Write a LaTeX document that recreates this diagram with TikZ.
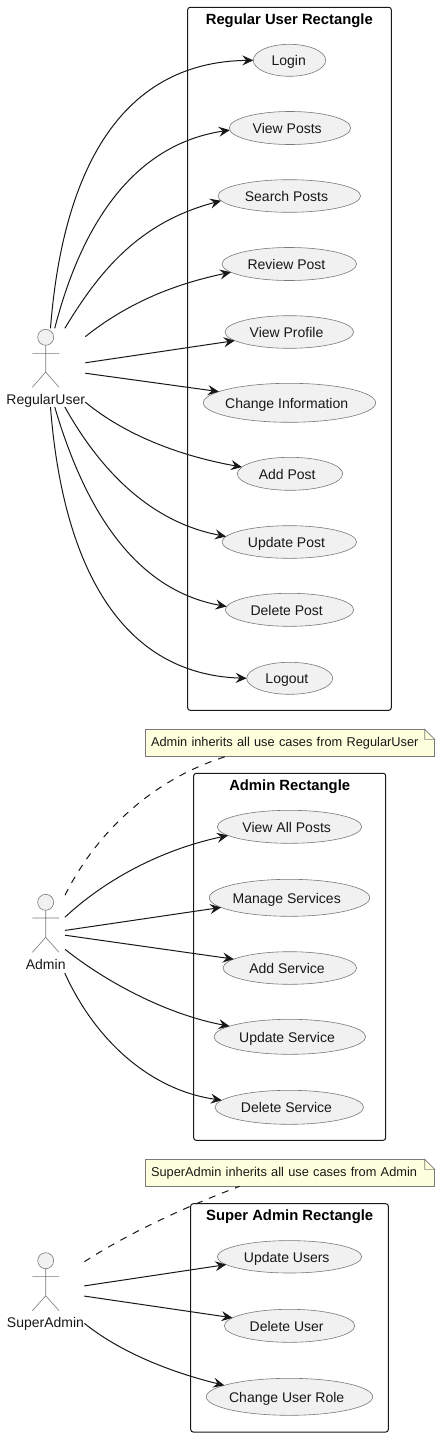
\documentclass[tikz,border=0pt]{standalone}
\usepackage{fontspec}
\setmainfont{Liberation Sans}
\usetikzlibrary{shapes.geometric,arrows.meta,calc}
\definecolor{ink}{HTML}{181818}
\definecolor{soft}{HTML}{7A7A7A}
\definecolor{ucfill}{HTML}{F1F1F1}
\definecolor{notefill}{HTML}{FEFFDD}
\tikzset{
  usecase/.style={ellipse,draw=soft,line width=.6pt,fill=ucfill,inner sep=0pt,outer sep=0pt,text=ink,
    text height=14pt,text depth=3pt,font=\fontsize{14}{16}\selectfont,
    execute at begin node={\hbox to 0pt\bgroup\hss\kern-5.6pt},
    execute at end node={\hss\egroup}},
  frame/.style={rectangle,draw=ink,line width=1pt,rounded corners=2.5pt,inner sep=0pt,outer sep=0pt},
  frametitle/.style={inner sep=0pt,text height=14pt,text depth=3pt,font=\fontsize{14.8}{16}\selectfont\bfseries},
  actorbox/.style={rectangle,inner sep=0pt,outer sep=0pt},
  actorname/.style={inner sep=0pt,text=ink,text height=14pt,text depth=3pt,font=\fontsize{14}{16}\selectfont},
  actorline/.style={draw=soft,line width=.6pt},
  link/.style={draw=ink,line width=1pt,-{Stealth[length=11pt,width=10pt,inset=4pt]}},
  notelink/.style={draw=ink,line width=1pt,dash pattern=on 7pt off 7pt},
  notebox/.style={rectangle,draw=soft,line width=.6pt,fill=notefill,minimum width=289.4pt,minimum height=27pt,
    inner xsep=5.7pt,inner ysep=0pt,outer sep=0pt,text width=278pt,align=left,text=ink,
    font=\fontsize{12.8}{15}\selectfont},
}
\newcommand{\stickman}[5]{% x, head y, arms y, hip y, foot y
  \draw[actorline,fill=ucfill] (#1,#2) circle (8pt);
  \draw[actorline] (#1,#2+8) -- (#1,#4) (#1-13.3,#3) -- (#1+13.3,#3)
    (#1-13.3,#5) -- (#1,#4) -- (#1+13.3,#5);
}
\newcommand{\notefold}[1]{%
  \fill[white] ($(#1.north east)+(-10,0)$) -- ($(#1.north east)+(.6,-.6)$) -- ($(#1.north east)+(0,10)$) -- cycle;
  \draw[soft,line width=.6pt] ($(#1.north east)+(-10,0)$) -- ($(#1.north east)+(0,10)$) -- ($(#1.north east)+(-10,10)$) -- cycle;
}
\begin{document}
\begin{tikzpicture}[x=1pt,y=-1pt]
\useasboundingbox (0,0) rectangle (440,1437);
\fill[white] (0,0) rectangle (440,1437);

% frames
\node[frame,minimum width=203.6pt,minimum height=703pt] (r1) at (289.5,358.8) {};
\node[frametitle] (t1) at (289.3,19) {Regular User Rectangle};
\node[frame,minimum width=192pt,minimum height=367pt] (r2) at (289.7,956.8) {};
\node[frametitle] (t2) at (289.7,785) {Admin Rectangle};
\node[frame,minimum width=197.6pt,minimum height=228.3pt] (r3) at (289.5,1317.85) {};
\node[frametitle] (t3) at (289.7,1215) {Super Admin Rectangle};

% use cases: regular user
\node[usecase,minimum width=72.4pt,minimum height=32pt] (login) at (289.5,60.3) {\kern4pt Login};
\node[usecase,minimum width=121.4pt,minimum height=33pt] (viewposts) at (290,128) {View Posts};
\node[usecase,minimum width=142.6pt,minimum height=32.6pt] (search) at (289.3,196) {Search Posts};
\node[usecase,minimum width=134.6pt,minimum height=33pt] (review) at (289.3,264) {Review Post};
\node[usecase,minimum width=128.6pt,minimum height=32.6pt] (profile) at (289.3,332) {View Profile};
\node[usecase,minimum width=172.4pt,minimum height=39pt] (change) at (289.5,402.8) {Change Information};
\node[usecase,minimum width=105.4pt,minimum height=33pt] (addpost) at (290,473.8) {Add Post};
\node[usecase,minimum width=134.6pt,minimum height=32.6pt] (updpost) at (289.3,542) {Update Post};
\node[usecase,minimum width=128.4pt,minimum height=33pt] (delpost) at (289.5,609.8) {Delete Post};
\node[usecase,minimum width=86pt,minimum height=32pt] (logout) at (289.7,678.3) {Logout};

% use cases: admin
\node[usecase,minimum width=144.4pt,minimum height=33pt] (viewall) at (289.5,826.8) {View All Posts};
\node[usecase,minimum width=160.4pt,minimum height=37pt] (manage) at (289.5,897.8) {Manage Services};
\node[usecase,minimum width=133.6pt,minimum height=32.6pt] (addsvc) at (289.8,968) {Add Service};
\node[usecase,minimum width=151.6pt,minimum height=35pt] (updsvc) at (289.8,1036.8) {Update Service};
\node[usecase,minimum width=148.6pt,minimum height=34pt] (delsvc) at (289.3,1107.3) {Delete Service};

% use cases: super admin
\node[usecase,minimum width=144.4pt,minimum height=32.4pt] (upduser) at (289.5,1256.8) {Update Users};
\node[usecase,minimum width=130.4pt,minimum height=33pt] (deluser) at (289.5,1325.8) {Delete User};
\node[usecase,minimum width=166.4pt,minimum height=37pt] (role) at (289.5,1396.8) {Change User Role};

% actors
\node[actorbox,minimum width=79.3pt,minimum height=78.7pt] (ru) at (45.65,367.65) {};
\stickman{45.7}{337.3}{353.3}{372}{387.3}
\node[actorname] (rulabel) at (45.7,399) {RegularUser};
\node[actorbox,minimum width=39pt,minimum height=79pt] (ad) at (45.5,933.5) {};
\stickman{45.7}{902.3}{918}{937.3}{952.3}
\node[actorname] (adlabel) at (45.7,964) {Admin};
\node[actorbox,minimum width=77.3pt,minimum height=79pt] (sa) at (45.65,1292) {};
\stickman{45.7}{1260.7}{1276.3}{1295.7}{1310.7}
\node[actorname] (salabel) at (45.5,1322) {SuperAdmin};

% notes
\node[notebox] (n1) at (290,742.8) {\raisebox{-2pt}{Admin inherits all use cases from RegularUser}};
\notefold{n1}
\node[notebox] (n2) at (290,1172.8) {\raisebox{-2pt}{SuperAdmin inherits all use cases from Admin}};
\notefold{n2}

% connectors: regular user
\draw[link] (ru.83.7) .. controls (62,180) and (115,62) .. (login.180);
\draw[link] (ru.77.6) .. controls (80,230) and (130,145) .. (viewposts.182.6);
\draw[link] (ru.64.6) .. controls (100,270) and (140,222) .. (search.184.3);
\draw[link] (ru.38.9) .. controls (125,305) and (170,285) .. (review.188.1);
\draw[link] (ru.7.1) -- (profile.189);
\draw[link] (ru.-8.1) -- (change.171.8);
\draw[link] (ru.-41.2) .. controls (125,435) and (180,456) .. (addpost.172.5);
\draw[link] (ru.-64.6) .. controls (100,470) and (150,522) .. (updpost.175.2);
\draw[link] (ru.-77.6) .. controls (85,510) and (135,590) .. (delpost.177.8);
\draw[link] (ru.-83.7) .. controls (62,556) and (115,674) .. (logout.180);

% connectors: admin
\draw[notelink] (ad.63.7) .. controls (95,835) and (150,780) .. (n1.192);
\draw[link] (ad.40.7) .. controls (105,880) and (160,850) .. (viewall.188.4);
\draw[link] (ad.9.3) -- (manage.188);
\draw[link] (ad.-5.3) -- (addsvc.171.5);
\draw[link] (ad.-39) .. controls (110,985) and (170,1015) .. (updsvc.170.9);
\draw[link] (ad.-64) .. controls (95,1040) and (150,1090) .. (delsvc.174.7);

% connectors: super admin
\draw[notelink] (sa.38.1) .. controls (130,1232) and (190,1205) .. (n2.195.3);
\draw[link] (sa.9.8) -- (upduser.187.6);
\draw[link] (sa.-6.3) -- (deluser.172.2);
\draw[link] (sa.-39) .. controls (120,1352) and (170,1372) .. (role.170.5);
\end{tikzpicture}
\end{document}
